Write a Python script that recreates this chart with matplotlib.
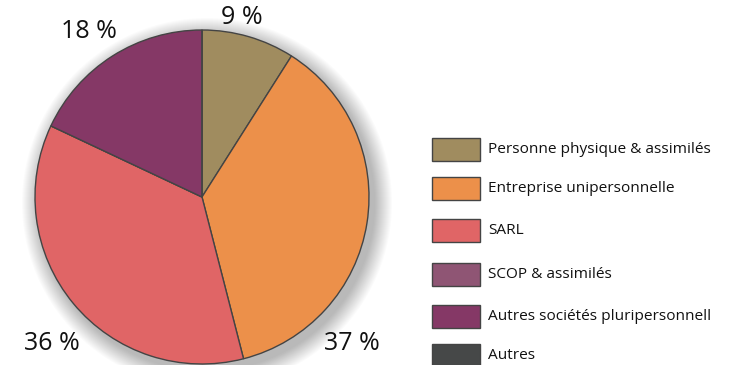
import matplotlib.pyplot as plt
from matplotlib.patches import Rectangle, Circle

# data ################
categories = [
    "Personne physique & assimilés",
    "Entreprise unipersonnelle",
    "SARL",
    "SCOP & assimilés",
    "Autres sociétés pluripersonnelles",
    "Autres",
]
shares = [9, 37, 36, 0, 18, 0]
colors = ["#a08c5f", "#ec904a", "#e06566", "#8f5574", "#853866", "#464848"]
#######################

W, H = 737, 365
fig = plt.figure(figsize=(W / 100, H / 100), dpi=100)
ax = fig.add_axes([0, 0, 1, 1])

plt.rcParams["font.family"] = ["Open Sans", "DejaVu Sans"]

cx, cy, r = 202, H - 197, 167

# soft shadow under the pie, pushed to the lower right
for i in range(18, 0, -1):
    ax.add_patch(Circle((cx + 5, cy - 6), r + i, color="#000000",
                        alpha=0.016, lw=0, zorder=1))

wedges, _ = ax.pie(
    shares,
    colors=colors,
    startangle=90,
    counterclock=False,
    center=(cx, cy),
    radius=r,
    wedgeprops=dict(edgecolor="#444444", linewidth=1.0, zorder=2),
    frame=True,
)
ax.set_xlim(0, W)
ax.set_ylim(0, H)
ax.set_aspect("equal")
ax.axis("off")

# percentage labels placed around the pie
label_pos = {0: (242, H - 17), 1: (352, H - 343), 2: (52, H - 343), 4: (89, H - 31)}
for idx, (px, py) in label_pos.items():
    ax.text(px, py, f"{shares[idx]} %", fontsize=18, ha="center", va="center",
            color="#111111", zorder=5)

# legend, long names cut off at the legend box edge
box_x, box_w, box_h = 432, 48, 23
row_top = [138, 177, 219, 263, 305, 344]
clip = Rectangle((box_x, 0), 712 - box_x, H, transform=ax.transData)
for name, col, top in zip(categories, colors, row_top):
    ax.add_patch(Rectangle((box_x, H - top - box_h), box_w, box_h,
                           facecolor=col, edgecolor="#444444", lw=1.0, zorder=3))
    t = ax.text(box_x + 56, H - top - box_h / 2, name, fontsize=11.1,
                ha="left", va="center", color="#111111", zorder=5)
    t.set_clip_on(True)
    t.set_clip_path(clip)

fig.savefig("out.png", dpi=100, facecolor="white")
